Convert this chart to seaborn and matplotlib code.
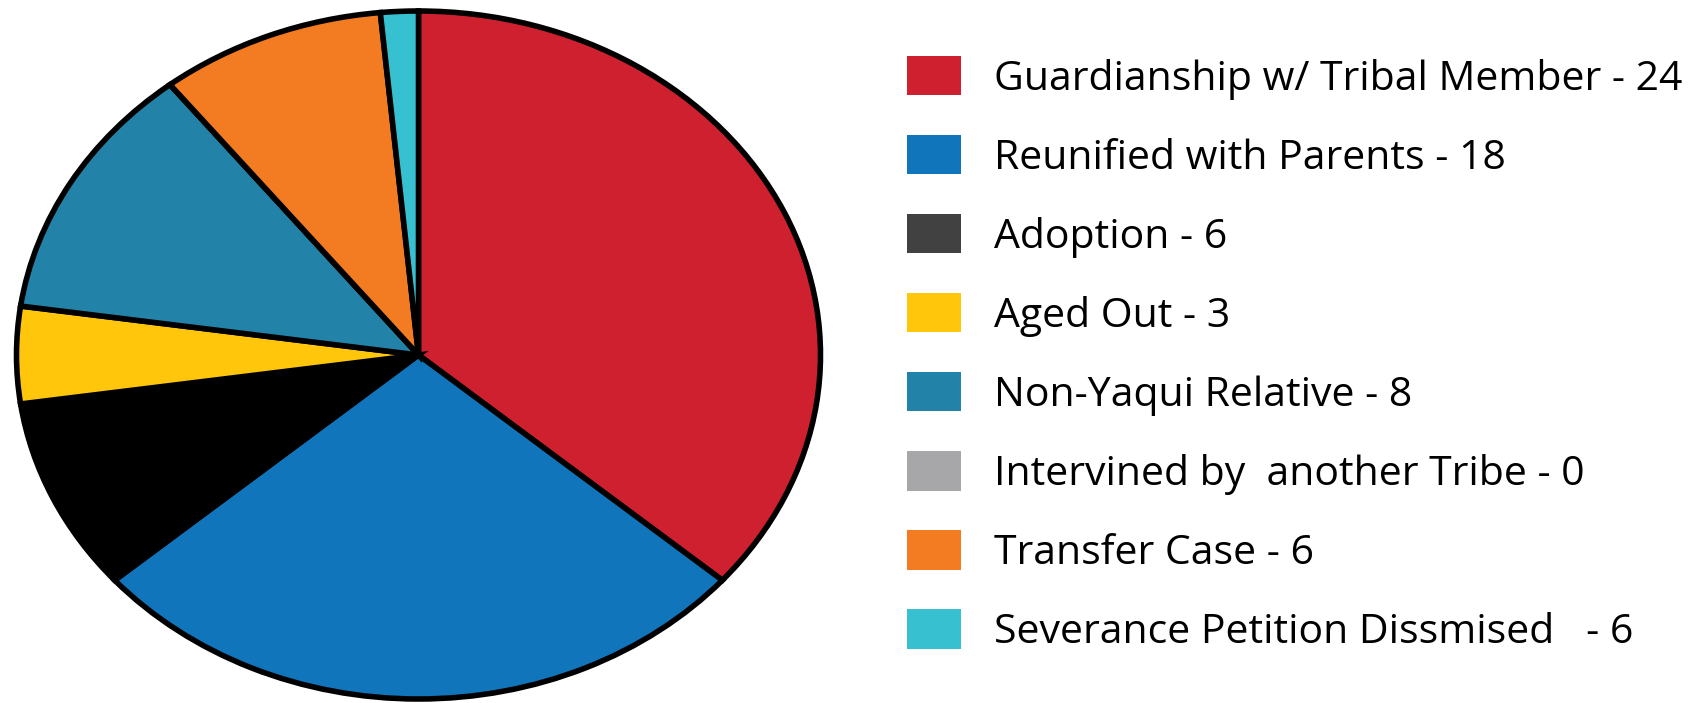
import matplotlib
matplotlib.use('Agg')
import matplotlib.pyplot as plt
from matplotlib.patches import Patch
import seaborn as sns

# outcome categories, slice sizes as drawn, and the legend text
categories = ['Guardianship w/ Tribal Member', 'Reunified with Parents', 'Adoption',
              'Aged Out', 'Non-Yaqui Relative', 'Intervined by  another Tribe',
              'Transfer Case', 'Severance Petition Dissmised  ']
legend_counts = [24, 18, 6, 3, 8, 0, 6, 6]
slice_values = [24, 18, 6, 3, 8, 0, 6, 1]

slice_colors = ['#CE202F', '#1175BC', '#000000', '#FFC60B', '#2382A8',
                '#A7A7AA', '#F37B21', '#36C0D0']
legend_colors = ['#CE202F', '#1175BC', '#414141', '#FFC60B', '#2382A8',
                 '#A7A7AA', '#F37B21', '#36C0D0']

sns.set_theme(style='white')
plt.rcParams['font.family'] = ['Open Sans', 'DejaVu Sans']

W, H = 1700, 703
fig = plt.figure(figsize=(W / 100, H / 100), dpi=100)

# pie is stretched into an ellipse, so the axes keeps auto aspect
cx, cy, rx, ry = 418.5, 355, 402, 344
m = 1.02
ax = fig.add_axes([(cx - rx * m) / W, (H - cy - ry * m) / H, 2 * rx * m / W, 2 * ry * m / H])
ax.pie(slice_values, colors=slice_colors, startangle=90, counterclock=False,
       wedgeprops={'edgecolor': 'black', 'linewidth': 4, 'joinstyle': 'miter'})
ax.set_aspect('auto')
ax.set_xlim(-m, m)
ax.set_ylim(-m, m)
ax.axis('off')

handles = [Patch(facecolor=c, edgecolor='none') for c in legend_colors]
labels = [f'{c} - {n}' for c, n in zip(categories, legend_counts)]
fig.legend(handles, labels, loc='upper left', bbox_to_anchor=(907 / W, 1 - 56 / H),
           frameon=False, fontsize=29.5, labelcolor='black',
           handlelength=1.32, handleheight=1.1,
           labelspacing=0.865, handletextpad=0.8, borderaxespad=0, borderpad=0)

fig.savefig('out.png', dpi=100)
